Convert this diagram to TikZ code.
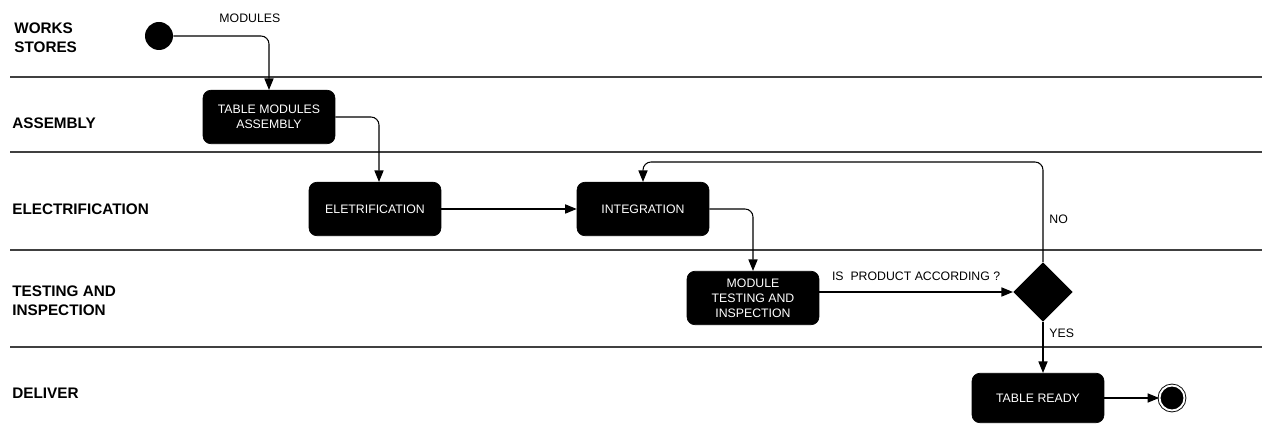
\documentclass[tikz,border=0pt]{standalone}
\usepackage{fontspec}
\setmainfont{Liberation Sans}
\usetikzlibrary{arrows.meta, shapes.geometric, positioning}

\begin{document}
\begin{tikzpicture}[x=0.02cm, y=-0.02cm,
    activity/.style={draw, rectangle, rounded corners=0.16cm, fill=black, text=white,
      minimum width=2.64cm, minimum height=1.07cm, align=center,
      font=\fontsize{7}{8.5}\selectfont},
    lane/.style={anchor=west, align=left, inner sep=0, font=\fontsize{8.7}{10.8}\selectfont\bfseries},
    lanesep/.style={draw=black!75, line width=0.75pt},
    flow/.style={-{Triangle[length=6.5pt, width=5.2pt]}, line width=0.6pt, rounded corners=0.16cm},
    tag/.style={font=\fontsize{7}{8.5}\selectfont}]
  \useasboundingbox (0,0) rectangle (1262,428);

  % Lanes
  \node[lane] (lworks) at (14,38) {WORKS\\STORES};
  \node[lane] (lassembly) at (12,123) {ASSEMBLY};
  \node[lane] (lelec) at (12,209) {ELECTRIFICATION};
  \node[lane] (ltest) at (12,301) {TESTING AND\\INSPECTION};
  \node[lane] (ldeliver) at (12,393) {DELIVER};
  \foreach \y in {77,152,250,347}
    \draw[lanesep] (10,\y) -- (1262,\y);

  % Nodes
  \node[circle, fill=black, minimum size=0.56cm, inner sep=0] (start) at (159,36) {};
  \node[activity] (tma) at (269,117) {TABLE MODULES\\ASSEMBLY};
  \node[activity] (elet) at (375,209) {ELETRIFICATION};
  \node[activity] (integ) at (643,209) {INTEGRATION};
  \node[activity] (mti) at (753,298) {MODULE\\TESTING AND\\INSPECTION};
  \node[diamond, fill=black, minimum width=1.19cm, minimum height=1.19cm, inner sep=0] (check) at (1043,292) {};
  \node[activity, minimum height=0.99cm] (ready) at (1038,398) {TABLE READY};
  \node[circle, draw, double, double distance=1.1pt, line width=0.5pt, fill=black,
    minimum size=0.5cm, inner sep=0] (stop) at (1172,398) {};
  \coordinate (back) at (1043,162);

  % Edges
  \draw[flow] (start.east) -| node[tag, pos=0.4, above=4pt] {MODULES} (tma.north);
  \draw[flow] (tma.east) -| ([xshift=0.08cm]elet.north);
  \draw[flow] (elet.east) -- (integ.west);
  \draw[flow] (integ.east) -| (mti.north);
  \draw[flow] (mti.east |- check.west) -- node[tag, above=3pt] {IS \ PRODUCT ACCORDING ?} (check.west);
  \draw[flow] (check.north) -- node[tag, right=0pt, pos=0.43] {NO} (back) -| (integ.north);
  \draw[flow] (check.south) -- node[tag, right=0pt, pos=0.22] {YES} (check.south |- ready.north);
  \draw[flow] (ready.east) -- (stop.west);
\end{tikzpicture}
\end{document}
